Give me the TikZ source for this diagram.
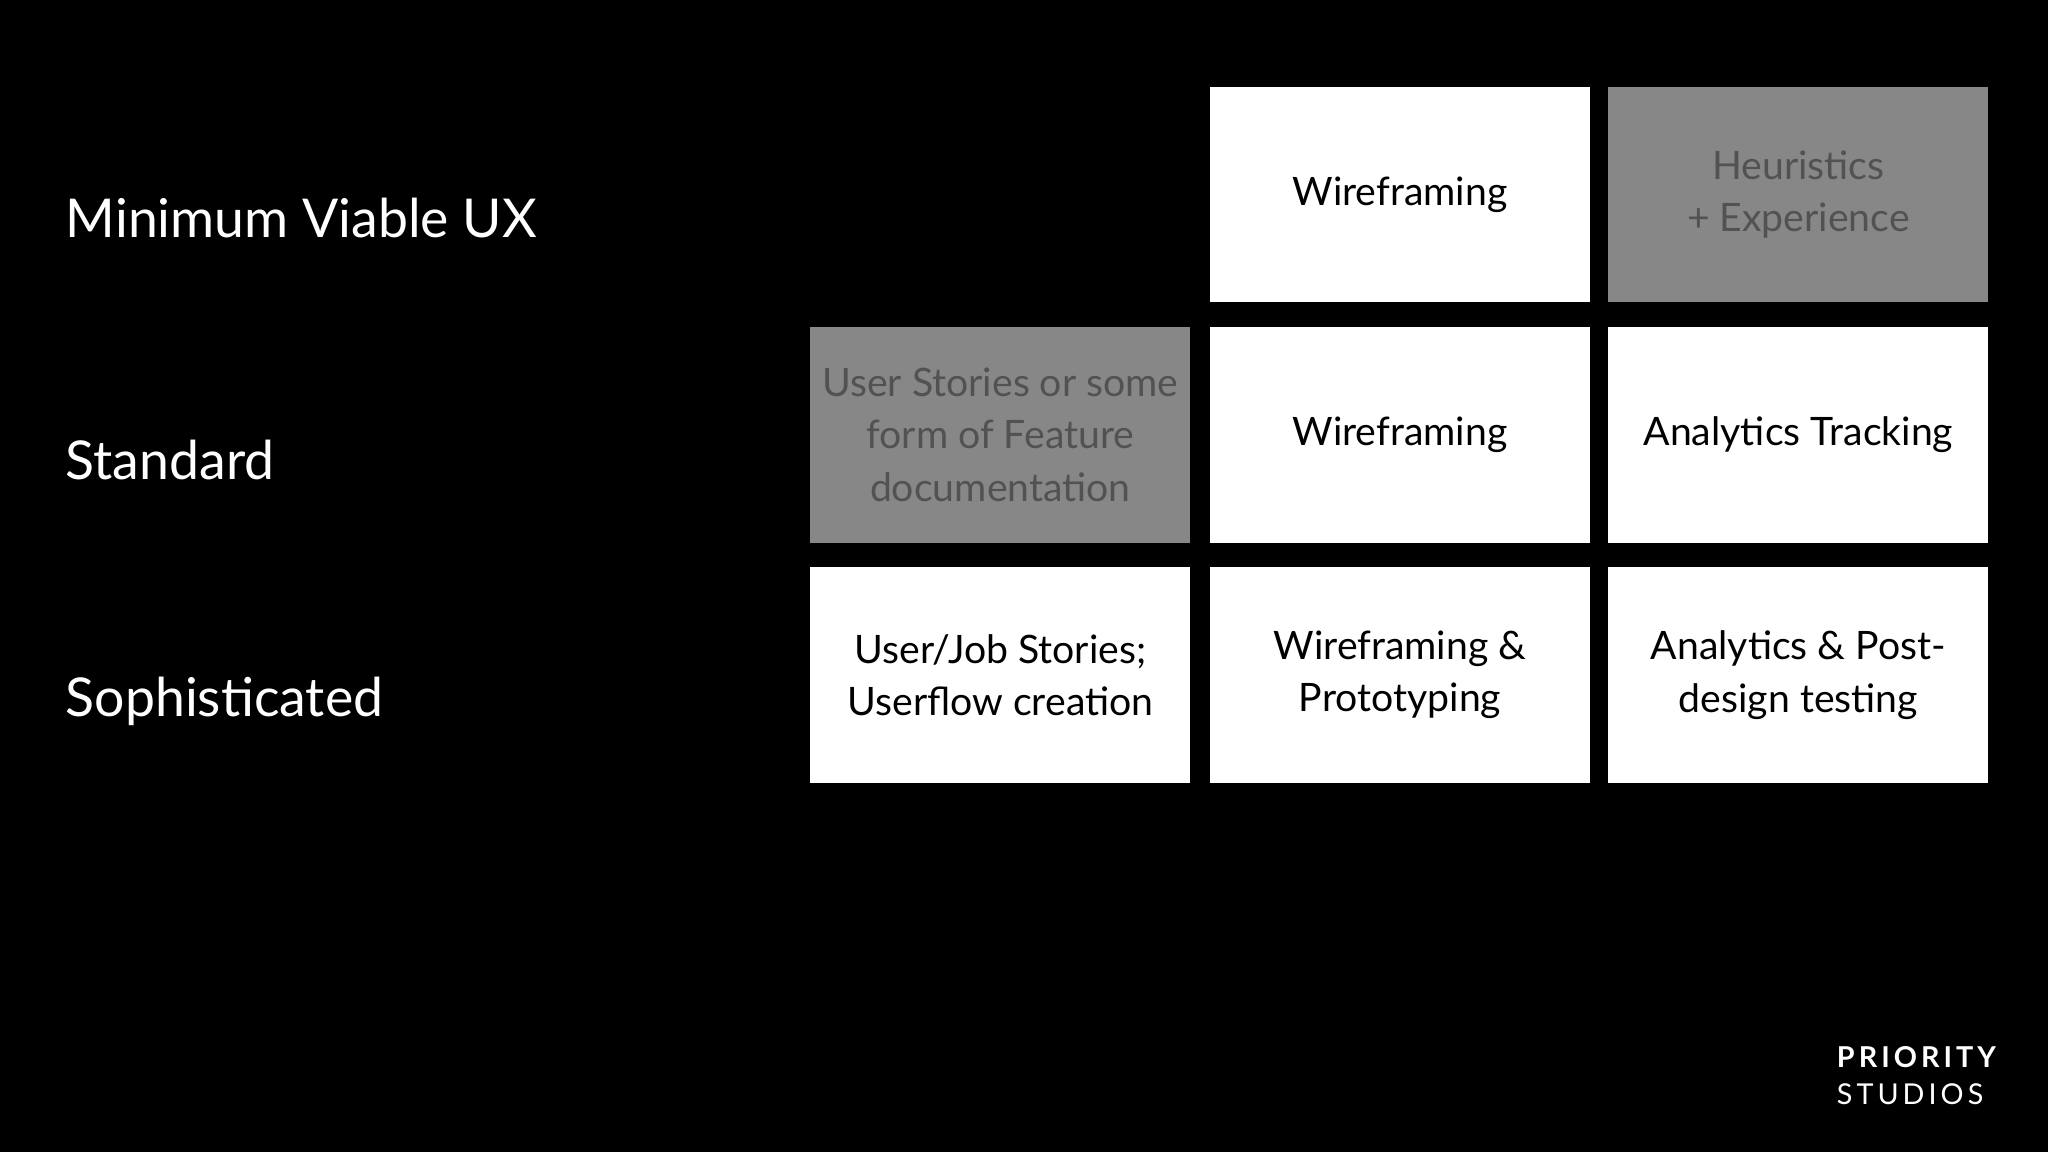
\documentclass[tikz,border=0pt]{standalone}
\usepackage{fontspec}
\setmainfont{Lato}
\begin{document}
\begin{tikzpicture}[x=0.5pt,y=-0.5pt,
 box/.style={draw=none,fill=white,minimum width=145.5pt,minimum height=82.5pt,inner sep=0,align=center,font=\fontsize{15}{20}\selectfont,text=black,anchor=north west},
 gbox/.style={box,fill=black!47,text=black!68},
 lab/.style={anchor=west,text=white,font=\fontsize{20.5}{24}\selectfont,inner sep=0}]
\fill[black] (0,0) rectangle (1568,882);
\useasboundingbox (0,0) rectangle (1568,882);
\node[lab] (l1) at (50,167) {Minimum Viable UX};
\node[lab] (l2) at (50,352) {Standard};
\node[lab] (l3) at (50,537) {Sophisticated};
\node[box] (b12) at (926,66) {Wireframing};
\node[gbox] (b13) at (1231,66) {Heuristics\\+ Experience};
\node[gbox] (b21) at (620,250) {User Stories or some\\form of Feature\\documentation};
\node[box] (b22) at (926,250) {Wireframing};
\node[box] (b23) at (1231,250) {Analytics Tracking};
\node[box] (b31) at (620,434) {User/Job Stories;\\Userflow creation};
\node[box] (b32) at (926,434) {Wireframing \&\\Prototyping};
\node[box] (b33) at (1231,434) {Analytics \& Post-\\design testing};
\node[anchor=north west,inner sep=0,text=white,font=\fontsize{11}{12}\selectfont\bfseries\addfontfeatures{LetterSpace=14}] (p) at (1406,801) {PRIORITY};
\node[anchor=north west,inner sep=0,text=white,font=\fontsize{11}{12}\selectfont\addfontfeatures{LetterSpace=14}] (s) at (1406,829) {STUDIOS};
\end{tikzpicture}
\end{document}
